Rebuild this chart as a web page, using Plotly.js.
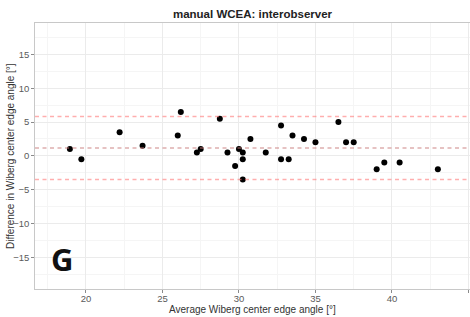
<!DOCTYPE html>
<html>
<head>
<meta charset="utf-8">
<script src="https://cdn.plot.ly/plotly-3.0.1.min.js"></script>
<style>html,body{margin:0;padding:0;background:#fff;}#chart{width:470px;height:317px;}</style>
</head>
<body>
<div id="chart"></div>
<script>
const avgAngle = [18.95, 19.7, 22.2, 23.7, 26.0, 26.2, 27.25, 27.5, 28.75, 29.25, 29.75, 30.0, 30.25, 30.25, 30.25, 30.75, 31.75, 32.75, 32.75, 33.25, 33.5, 34.25, 35.0, 36.5, 37.0, 37.5, 39.0, 39.5, 40.5, 43.0];
const diffAngle = [1.0, -0.5, 3.5, 1.5, 3.0, 6.5, 0.5, 1.0, 5.5, 0.5, -1.5, 1.0, 0.5, -0.5, -3.5, 2.5, 0.5, 4.5, -0.5, -0.5, 3.0, 2.5, 2.0, 5.0, 2.0, 2.0, -2.0, -1.0, -1.0, -2.0];
const meanDiff = 1.17;
const upperLoA = 5.83;
const lowerLoA = -3.49;
const xRange = [16.67, 45.1];
const yRange = [-19.7, 19.65];
const titleText = "manual WCEA: interobserver";
const xTitle = "Average Wiberg center edge angle [°]";
const yTitle = "Difference in Wiberg center edge angle [°]";
const panelLabel = "G";

const FONT = 'Liberation Sans, Arial, sans-serif';

function hline(y, color) {
  return {type: 'line', xref: 'paper', x0: 0, x1: 1, yref: 'y', y0: y, y1: y,
          line: {color: color, width: 1.5, dash: '4px,3.5px'}, layer: 'above'};
}

const traces = [{
  x: avgAngle, y: diffAngle, type: 'scatter', mode: 'markers',
  marker: {color: '#000000', size: 6}, hoverinfo: 'skip', showlegend: false
}];

const axisCommon = {
  showline: true, linecolor: '#c8c8c8', linewidth: 1.2, mirror: true,
  ticks: 'outside', ticklen: 2.5, tickcolor: '#8a8a8a', tickwidth: 1,
  gridcolor: '#ebebeb', gridwidth: 1, zeroline: false,
  tickfont: {family: FONT, size: 9.5, color: '#5a5a5a'}
};

const layout = {
  width: 470, height: 317,
  margin: {l: 35, r: 0, t: 23, b: 28},
  paper_bgcolor: '#ffffff', plot_bgcolor: '#ffffff',
  title: {text: '<b>' + titleText + '</b>', x: 0.5, xref: 'paper', y: 1 - 14 / 317, yref: 'container', yanchor: 'middle',
          font: {family: FONT, size: 11.5, color: '#222'}},
  xaxis: Object.assign({}, axisCommon, {
    range: xRange, tick0: 20, dtick: 5, ticklabelstandoff: -2,
    minor: {tick0: 17.5, dtick: 5, showgrid: true, gridcolor: '#f5f5f5', gridwidth: 1, ticks: ''}
  }),
  yaxis: Object.assign({}, axisCommon, {
    range: yRange, tick0: 0, dtick: 5,
    minor: {tick0: 2.5, dtick: 5, showgrid: true, gridcolor: '#f5f5f5', gridwidth: 1, ticks: ''}
  }),
  shapes: [
    hline(upperLoA, 'rgba(255,120,120,0.6)'),
    hline(meanDiff, 'rgba(200,120,120,0.6)'),
    hline(lowerLoA, 'rgba(255,120,120,0.6)')
  ],
  annotations: [
    {
      text: '<b>' + panelLabel + '</b>', xref: 'x', yref: 'y', x: 18.45, y: -15.3,
      showarrow: false, xanchor: 'center', yanchor: 'middle',
      font: {family: 'Open Sans, DejaVu Sans, sans-serif', size: 31, color: '#111'}
    },
    {
      text: xTitle, xref: 'paper', yref: 'paper', x: 0.5, y: -(309.5 - 289) / 266,
      showarrow: false, xanchor: 'center', yanchor: 'middle',
      font: {family: FONT, size: 10, color: '#333333'}
    },
    {
      text: yTitle, xref: 'paper', yref: 'paper', x: -(35 - 10) / 435, y: 0.5, textangle: -90,
      showarrow: false, xanchor: 'center', yanchor: 'middle',
      font: {family: FONT, size: 10, color: '#333333'}
    }
  ]
};

Plotly.newPlot('chart', traces, layout, {staticPlot: true, displayModeBar: false});
</script>
</body>
</html>
